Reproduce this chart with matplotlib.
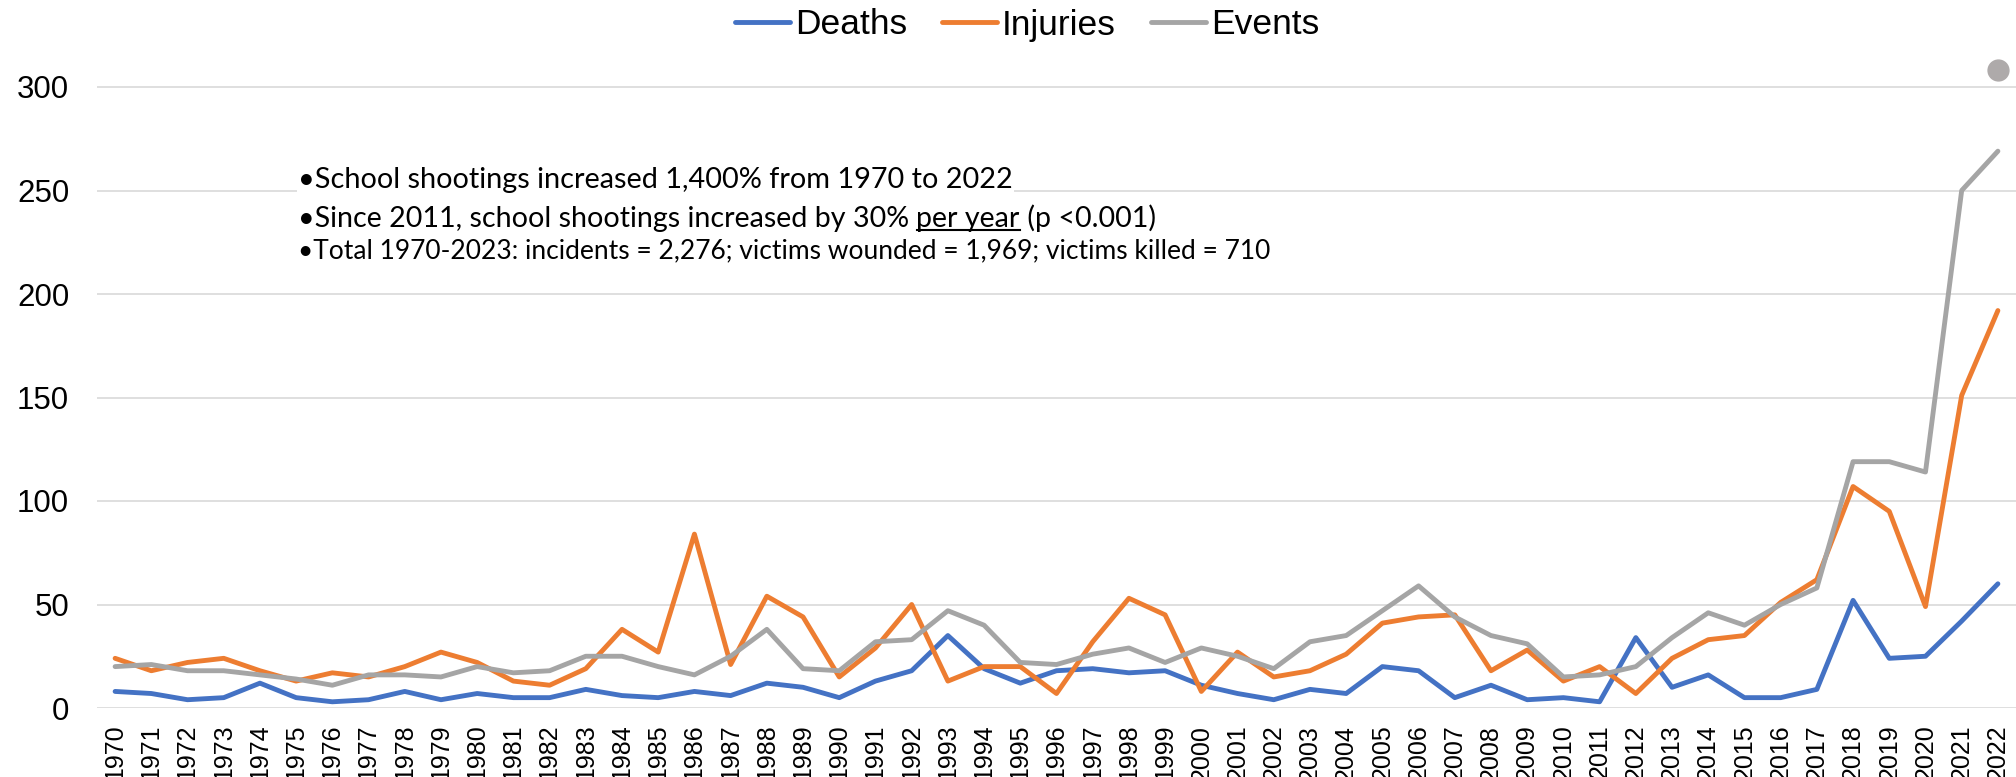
import matplotlib
matplotlib.use('Agg')
import matplotlib.pyplot as plt
from matplotlib.lines import Line2D
from matplotlib.transforms import IdentityTransform
import numpy as np

plt.rcParams['font.family'] = ['Liberation Sans', 'DejaVu Sans']

years = [str(y) for y in range(1970, 2023)]

deaths = [8, 7, 4, 5, 12, 5, 3, 4, 8, 4,
		7, 5, 5, 9, 6, 5, 8, 6, 12, 10,
		5, 13, 18, 35, 19, 12, 18, 19, 17, 18,
		11, 7, 4, 9, 7, 20, 18, 5, 11, 4,
		5, 3, 34, 10, 16, 5, 5, 9, 52, 24,
		25, 42, 60]

injuries = [24, 18, 22, 24, 18, 13, 17, 15, 20, 27,
		22, 13, 11, 19, 38, 27, 84, 21, 54, 44,
		15, 29, 50, 13, 20, 20, 7, 32, 53, 45,
		8, 27, 15, 18, 26, 41, 44, 45, 18, 28,
		13, 20, 7, 24, 33, 35, 51, 62, 107, 95,
		49, 151, 192]

events = [20, 21, 18, 18, 16, 14, 11, 16, 16, 15,
		20, 17, 18, 25, 25, 20, 16, 25, 38, 19,
		18, 32, 33, 47, 40, 22, 21, 26, 29, 22,
		29, 25, 19, 32, 35, 47, 59, 44, 35, 31,
		15, 16, 20, 34, 46, 40, 50, 58, 119, 119,
		114, 250, 269]

# single grey dot above the last year
dotYear = '2022'
dotValue = 308

yTicks = [0, 50, 100, 150, 200, 250, 300]

noteLine1 = '•School shootings increased 1,400% from 1970 to 2022'
noteLine2a = '•Since 2011, school shootings increased by 30% '
noteLine2b = 'per year'
noteLine2c = ' (p <0.001)'
noteLine3 = '•Total 1970-2023: incidents = 2,276; victims wounded = 1,969; victims killed = 710'

colorDeaths = '#4472C4'
colorInjuries = '#ED7D31'
colorEvents = '#A5A5A5'

W, H = 2016, 777
fig = plt.figure(figsize=(W/100, H/100), dpi=100)
ax = fig.add_axes([97/W, (H-708)/H, (W-97)/W, 335*2.07/H])

x = np.arange(len(years))
lineStyle = dict(linewidth=3.5, solid_joinstyle='round', solid_capstyle='round')
ax.plot(x, deaths, color=colorDeaths, label='Deaths', **lineStyle)
ax.plot(x, injuries, color=colorInjuries, label='Injuries', **lineStyle)
ax.plot(x, events, color=colorEvents, label='Events', **lineStyle)
ax.plot([years.index(dotYear)], [dotValue], 'o', color='#AEAAAA', markersize=15, clip_on=False)

ax.set_xlim(-0.5, len(years)-0.5)
ax.set_ylim(0, 335)
ax.set_xticks(x)
ax.set_xticklabels(years, rotation=90, fontsize=18)
ax.set_yticks(yTicks)
ax.set_yticklabels([str(v) for v in yTicks], fontsize=22.5)
ax.tick_params(axis='x', length=0, pad=12)
ax.tick_params(axis='y', length=0, pad=20)
ax.grid(axis='y', color='#D9D9D9', linewidth=1.2)
ax.set_axisbelow(True)
for s in ax.spines.values():
	s.set_visible(False)

fig.legend(loc='center', bbox_to_anchor=(0.5095, 1-25/H), ncol=3, frameon=False,
	fontsize=25.5, handlelength=1.55, handletextpad=0.13, columnspacing=1.0, borderpad=0)

noteFont = 'Lato'
t1 = fig.text(298/W, 1-188/H, noteLine1, fontsize=20.8, family=noteFont, va='baseline',
	bbox=dict(facecolor='white', edgecolor='none', pad=1))
t2a = fig.text(298/W, 1-227/H, noteLine2a, fontsize=20.6, family=noteFont, va='baseline')
t2b = ax.annotate(noteLine2b, xy=(1, 0), xycoords=t2a, va='bottom', ha='left',
	fontsize=20.6, family=noteFont, annotation_clip=False)
t2c = ax.annotate(noteLine2c, xy=(1, 0), xycoords=t2b, va='bottom', ha='left',
	fontsize=20.6, family=noteFont, annotation_clip=False)
t3 = fig.text(298/W, 1-258/H, noteLine3, fontsize=19, family=noteFont, va='baseline')

fig.canvas.draw()
bb = t2b.get_window_extent()
fig.add_artist(Line2D([bb.x0, bb.x1], [bb.y0+2, bb.y0+2], color='black', linewidth=1.5,
	transform=IdentityTransform()))

fig.savefig('out.png', dpi=100, facecolor='white')
